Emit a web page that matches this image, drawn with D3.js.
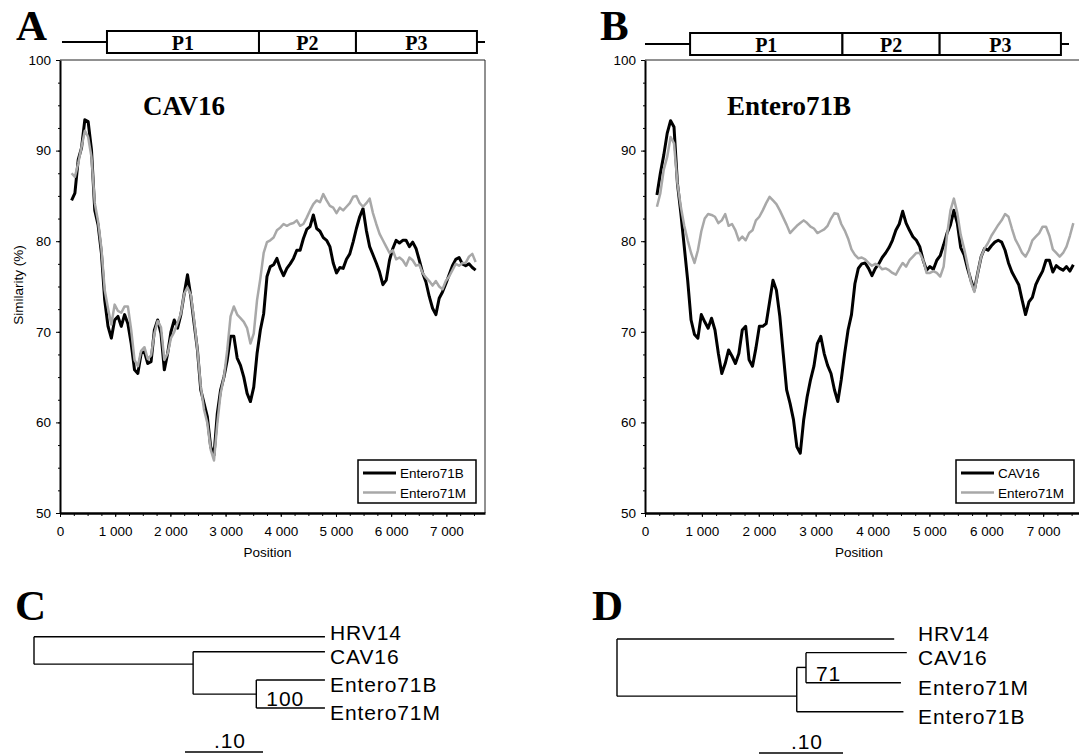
<!DOCTYPE html>
<html>
<head>
<meta charset="utf-8">
<title>Similarity plots and trees</title>
<script src="https://cdn.jsdelivr.net/npm/d3@7"></script>
<style>
body { margin: 0; background: #fff; }
svg { display: block; }
.axis text { font-family: "Liberation Sans", Arial, sans-serif; font-size: 13.5px; fill: #000; }
.axis line { stroke: #000; }
.small { font-family: "Liberation Sans", Arial, sans-serif; font-size: 13.5px; }
.serif { font-family: "Liberation Serif", "Times New Roman", serif; font-weight: bold; }
.tree { font-family: "Liberation Sans", Arial, sans-serif; font-size: 21px; letter-spacing: 0.9px; }
</style>
</head>
<body>
<svg id="fig" width="1079" height="754"></svg>
<script>
// window positions shared by all four similarity curves
const positions = [
  210,270,330,390,450,510,570,630,690,750,
  810,870,930,990,1050,1110,1170,1230,1290,1350,
  1410,1470,1530,1590,1650,1710,1770,1830,1890,1950,
  2010,2070,2130,2190,2250,2310,2370,2430,2490,2550,
  2610,2670,2730,2790,2850,2910,2970,3030,3090,3150,
  3210,3270,3330,3390,3450,3510,3570,3630,3690,3750,
  3810,3870,3930,3990,4050,4110,4170,4230,4290,4350,
  4410,4470,4530,4590,4650,4710,4770,4830,4890,4950,
  5010,5070,5130,5190,5250,5310,5370,5430,5490,5550,
  5610,5670,5730,5790,5850,5910,5970,6030,6090,6150,
  6210,6270,6330,6390,6450,6510,6570,6630,6690,6750,
  6810,6870,6930,6990,7050,7110,7170,7230,7290,7350,
  7410,7470,7530
];

// panel A, query CAV16
const cav16_e71b = [
  84.5,85.3,89.0,90.3,93.4,93.2,90.1,83.4,81.8,78.7,
  73.5,70.6,69.3,71.3,71.7,70.6,71.9,70.9,68.7,65.8,
  65.4,67.6,67.8,66.5,66.7,70.2,71.3,69.8,65.8,67.6,
  70.0,71.3,70.4,71.9,74.2,76.3,73.9,70.9,68.0,63.6,
  62.1,60.6,57.3,56.4,61.0,63.6,65.0,66.9,69.5,69.5,
  67.1,66.3,65.0,63.2,62.3,63.9,67.6,70.2,72.0,76.1,
  77.2,77.4,78.1,77.0,76.2,77.0,77.5,78.1,79.0,79.0,
  80.3,81.3,81.6,82.9,81.4,81.1,80.4,80.1,79.4,77.6,
  76.5,77.1,77.0,78.0,78.6,79.9,81.4,82.7,83.6,81.2,
  79.4,78.5,77.6,76.6,75.2,75.7,77.9,79.2,80.1,79.8,
  80.1,80.1,79.4,79.9,79.2,77.9,76.5,75.5,73.9,72.6,
  71.9,73.7,74.4,75.3,76.3,77.3,78.0,78.2,77.5,77.3,
  77.5,77.1,76.8
];
const cav16_e71m = [
  87.5,87.1,88.6,90.4,92.2,91.5,89.3,84.2,82.2,79.2,
  74.6,72.6,70.8,73.0,72.3,72.1,72.8,72.8,70.2,66.9,
  66.2,67.9,68.3,67.0,67.4,69.8,71.2,70.5,66.9,67.6,
  69.3,70.0,71.0,72.0,74.2,74.9,74.1,71.3,68.0,64.0,
  61.4,59.9,57.0,55.8,59.9,63.2,65.0,68.0,71.7,72.8,
  71.9,71.5,71.1,70.4,68.7,69.8,73.5,75.9,78.7,79.9,
  80.1,80.4,81.2,81.5,81.9,81.7,81.9,82.0,82.3,81.7,
  81.9,82.6,83.4,84.1,84.5,84.3,85.2,84.5,83.9,83.7,
  83.1,83.7,83.4,83.8,84.2,84.9,85.0,84.2,83.8,84.2,
  84.7,83.1,81.9,80.8,80.1,79.4,78.7,79.0,78.0,78.2,
  77.9,77.3,78.2,77.9,77.3,77.4,76.5,76.0,75.6,75.1,
  75.6,75.0,74.7,75.6,76.1,76.8,77.5,77.3,77.6,77.6,
  78.3,78.6,77.7
];

// panel B, query Entero71B
const e71b_cav16 = [
  85.1,87.5,89.5,91.9,93.3,92.6,86.4,83.1,79.4,75.7,
  71.3,69.7,69.3,71.9,71.1,70.4,71.5,70.2,67.6,65.4,
  66.5,68.0,67.3,66.5,67.6,70.2,70.6,66.9,66.2,68.2,
  70.6,70.6,70.9,73.3,75.7,74.6,71.7,67.6,63.6,62.1,
  60.3,57.3,56.6,60.3,62.8,64.7,66.2,68.7,69.5,67.6,
  66.3,65.4,63.6,62.3,64.7,67.6,70.2,71.9,75.3,77.0,
  77.5,77.6,77.0,76.2,77.0,77.5,78.2,78.7,79.3,80.1,
  81.2,81.9,83.3,82.0,81.2,80.5,80.1,79.4,77.9,76.8,
  77.2,76.9,77.9,78.4,79.6,80.9,81.8,83.4,82.0,79.3,
  78.5,77.0,75.7,74.6,76.5,78.3,79.2,79.0,79.5,79.9,
  80.1,79.9,79.0,77.6,76.6,75.9,75.2,73.5,71.9,73.3,
  73.8,75.2,76.0,76.7,77.9,77.9,76.6,77.3,77.0,76.8,
  77.2,76.7,77.4
];
const e71b_e71m = [
  83.8,85.3,87.9,89.3,91.5,90.8,86.4,83.8,81.7,80.1,
  78.7,77.6,79.0,81.1,82.5,83.0,82.9,82.7,82.0,82.3,
  83.0,81.7,81.9,81.2,80.1,80.5,80.1,80.9,81.2,82.3,
  82.7,83.4,84.2,84.9,84.5,84.1,83.4,82.6,81.8,80.9,
  81.3,81.7,82.0,82.3,82.0,81.6,81.4,80.9,81.1,81.3,
  81.7,82.5,83.1,83.0,81.9,81.2,80.3,79.1,78.5,78.1,
  78.2,78.0,77.6,77.3,77.5,77.3,76.9,77.0,76.8,76.5,
  76.3,77.0,77.6,77.2,77.9,78.3,78.7,78.7,77.9,76.5,
  76.5,76.7,76.5,76.1,77.2,80.7,83.4,84.7,83.1,80.7,
  79.2,77.4,75.5,74.4,76.5,78.3,79.2,79.8,80.6,81.2,
  81.8,82.3,83.0,82.7,81.4,80.2,79.5,78.7,78.3,79.0,
  80.1,80.5,80.9,81.6,81.6,80.6,79.1,78.7,78.3,78.7,
  79.4,80.6,82.0
];

const xTicks = [0, 1000, 2000, 3000, 4000, 5000, 6000, 7000];
const yTicks = [50, 60, 70, 80, 90, 100];
const xDomain = [0, 7700];
const yDomain = [50, 100];

// genome map above the plots
const genomeSpan = [36, 7700];
const genes = [
  {name: 'P1', start: 851, end: 3605},
  {name: 'P2', start: 3605, end: 5362},
  {name: 'P3', start: 5362, end: 7554}
];

// neighbour-joining trees (branch lengths, rows top to bottom)
const treeP1 = {children: [
  {name: 'HRV14', len: 0.373, row: 0},
  {len: 0.204, row: 0.97, children: [
    {name: 'CAV16', len: 0.169, row: 0.53},
    {len: 0.081, row: 2.03, support: '100', children: [
      {name: 'Entero71B', len: 0.088, row: 1.53},
      {name: 'Entero71M', len: 0.088, row: 2.52}
    ]}
  ]}
]};
const treeP2P3 = {children: [
  {name: 'HRV14', len: 0.330, row: 0},
  {len: 0.214, row: 1.97, children: [
    {len: 0.011, row: 0.98, support: '71', children: [
      {name: 'CAV16', len: 0.120, row: 0.47},
      {name: 'Entero71M', len: 0.113, row: 1.51}
    ]},
    {name: 'Entero71B', len: 0.127, row: 2.51}
  ]}
]};

const svg = d3.select('#fig');
const fmt = d3.formatLocale({decimal: '.', thousands: ' ', grouping: [3], currency: ['', '']}).format(',');

function drawPanel(p) {
  const g = svg.append('g');
  const x = d3.scaleLinear().domain(xDomain).range([p.left, p.right]);
  const y = d3.scaleLinear().domain(yDomain).range([513, 60]);

  // thin frame top + right
  g.append('path')
    .attr('d', `M${p.left},${y(100)}H${p.right}V${y(50)}`)
    .attr('fill', 'none').attr('stroke', '#222').attr('stroke-width', 1);

  // minor ticks
  g.append('g').attr('class', 'axis')
    .attr('transform', `translate(${p.left},0)`)
    .call(d3.axisLeft(y).tickValues(d3.range(52.5, 100, 2.5)).tickSize(2).tickFormat(''))
    .call(a => a.select('.domain').remove());
  g.append('g').attr('class', 'axis')
    .attr('transform', `translate(0,${y(50)})`)
    .call(d3.axisBottom(x).tickValues(d3.range(250, 7700, 250)).tickSize(3).tickFormat(''))
    .call(a => a.select('.domain').remove());

  // main axes
  g.append('g').attr('class', 'axis')
    .attr('transform', `translate(${p.left},0)`)
    .call(d3.axisLeft(y).tickValues(yTicks).tickSize(4).tickSizeOuter(0).tickPadding(5))
    .call(a => a.select('.domain').attr('stroke-width', 2));
  g.append('g').attr('class', 'axis')
    .attr('transform', `translate(0,${y(50)})`)
    .call(d3.axisBottom(x).tickValues(xTicks).tickSize(4).tickSizeOuter(0).tickPadding(9).tickFormat(fmt))
    .call(a => a.select('.domain').attr('stroke-width', 2.5));

  g.append('text').attr('class', 'small')
    .attr('x', (x(0) + x(7700)) / 2 - 5).attr('y', 557)
    .attr('text-anchor', 'middle').text('Position');

  if (p.yLabel) {
    g.append('text').attr('class', 'small')
      .attr('transform', 'translate(23,285) rotate(-90)')
      .attr('text-anchor', 'middle').text('Similarity (%)');
  }

  // curves
  const line = d3.line().x((d, i) => x(positions[i])).y(d => y(d));
  p.series.forEach(s => {
    g.append('path').datum(s.values)
      .attr('d', line)
      .attr('fill', 'none')
      .attr('stroke', s.color)
      .attr('stroke-width', s.width)
      .attr('stroke-linejoin', 'round');
  });

  // legend
  const lw = 118, lh = 43;
  const lx = p.right - 9 - lw, ly = y(50) - 10 - lh;
  const lg = g.append('g').attr('transform', `translate(${lx},${ly})`);
  lg.append('rect').attr('width', lw).attr('height', lh)
    .attr('fill', '#fff').attr('stroke', '#000').attr('stroke-width', 1.5);
  p.series.forEach((s, i) => {
    const yy = 13 + i * 19.5;
    lg.append('line').attr('x1', 5).attr('x2', 38).attr('y1', yy).attr('y2', yy)
      .attr('stroke', s.color).attr('stroke-width', s.width);
    lg.append('text').attr('class', 'small').attr('x', 42).attr('y', yy + 5).text(s.name);
  });

  // title
  g.append('text').attr('class', 'serif').attr('font-size', 27)
    .attr('x', p.titleX).attr('y', 115).text(p.title);

  // genome map
  const m = d3.scaleLinear().domain(xDomain).range(p.mapRange);
  const my = p.mapY;
  g.append('line')
    .attr('x1', m(genomeSpan[0])).attr('x2', m(genes[0].start))
    .attr('y1', my).attr('y2', my).attr('stroke', '#000').attr('stroke-width', 2);
  g.append('line')
    .attr('x1', m(genes[genes.length - 1].end)).attr('x2', m(genomeSpan[1]))
    .attr('y1', my).attr('y2', my).attr('stroke', '#000').attr('stroke-width', 2);
  genes.forEach(d => {
    g.append('rect')
      .attr('x', m(d.start)).attr('y', my - 11)
      .attr('width', m(d.end) - m(d.start)).attr('height', 22)
      .attr('fill', '#fff').attr('stroke', '#000').attr('stroke-width', 2);
    g.append('text').attr('class', 'serif').attr('font-size', 20)
      .attr('x', (m(d.start) + m(d.end)) / 2).attr('y', my + 8)
      .attr('text-anchor', 'middle').text(d.name);
  });

  // panel letter
  g.append('text').attr('class', 'serif').attr('font-size', 43)
    .attr('x', p.letterX).attr('y', 40).text(p.letter);
}

function drawTree(t) {
  const g = svg.append('g');
  const root = d3.hierarchy(t.data);
  const x = d3.scaleLinear().domain([0, 0.1]).range([t.x0, t.x0 + t.barPx]);
  const y = d3.scaleLinear().domain([0, 1]).range([t.y0, t.y0 + t.rowPx]);
  root.each(n => { n.dist = n.parent ? n.parent.dist + n.data.len : 0; });

  const stroke = sel => sel.attr('stroke', '#000').attr('stroke-width', 1.4).attr('fill', 'none');

  root.descendants().forEach(n => {
    if (n.parent) {
      g.append('line').call(stroke)
        .attr('x1', x(n.parent.dist)).attr('x2', x(n.dist))
        .attr('y1', y(n.data.row)).attr('y2', y(n.data.row));
    }
    if (n.children) {
      const rows = n.children.map(c => c.data.row);
      g.append('line').call(stroke)
        .attr('x1', x(n.dist)).attr('x2', x(n.dist))
        .attr('y1', y(d3.min(rows))).attr('y2', y(d3.max(rows)));
      if (n.data.support) {
        g.append('text').attr('class', 'tree').attr('font-size', 22)
          .attr('x', x(n.dist) + 10).attr('y', y(d3.max(rows)) - 2)
          .text(n.data.support);
      }
    }
  });

  // tip labels: just below their branch, pushed apart so they don't collide
  const leaves = root.leaves().sort((a, b) => b.data.row - a.data.row);
  let below = Infinity;
  leaves.forEach(n => {
    const base = Math.min(y(n.data.row) + 12, below - 23.5);
    below = base;
    g.append('text').attr('class', 'tree')
      .attr('x', t.labelX).attr('y', base).text(n.data.name);
  });

  // scale bar
  g.append('line').call(stroke).attr('stroke-width', 1.6)
    .attr('x1', t.barX).attr('x2', t.barX + x(0.1) - x(0))
    .attr('y1', t.barY).attr('y2', t.barY);
  g.append('text').attr('class', 'tree').attr('font-size', 22)
    .attr('x', t.barX + (x(0.1) - x(0)) / 2 + 6).attr('y', t.barY - 4)
    .attr('text-anchor', 'middle').text('.10');

  g.append('text').attr('class', 'serif').attr('font-size', 43)
    .attr('x', t.letterX).attr('y', 620).text(t.letter);
}

drawPanel({
  letter: 'A', letterX: 16, left: 60, right: 485, title: 'CAV16', titleX: 143,
  yLabel: true, mapRange: [60, 485], mapY: 42,
  series: [
    {name: 'Entero71B', values: cav16_e71b, color: '#000', width: 3},
    {name: 'Entero71M', values: cav16_e71m, color: '#a8a8a8', width: 2.5}
  ]
});
drawPanel({
  letter: 'B', letterX: 600, left: 645, right: 1083, title: 'Entero71B', titleX: 727,
  yLabel: false, mapRange: [643, 1069], mapY: 44,
  series: [
    {name: 'CAV16', values: e71b_cav16, color: '#000', width: 3},
    {name: 'Entero71M', values: e71b_e71m, color: '#a8a8a8', width: 2.5}
  ]
});

drawTree({data: treeP1, letter: 'C', letterX: 15, x0: 34, barPx: 78, y0: 636.7, rowPx: 28.3,
  labelX: 330, barX: 185, barY: 752});
drawTree({data: treeP2P3, letter: 'D', letterX: 592, x0: 617, barPx: 84, y0: 639, rowPx: 29,
  labelX: 918, barX: 759, barY: 753});
</script>
</body>
</html>
